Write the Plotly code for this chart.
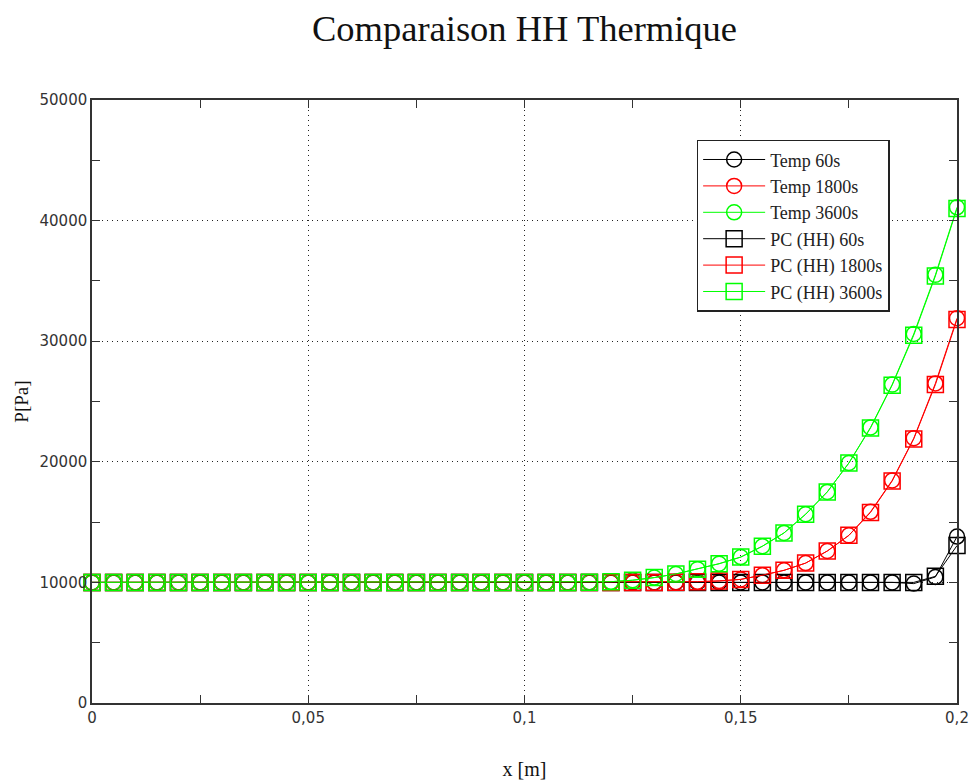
import plotly.graph_objects as go

# ---- data ----
x_m = [0.000, 0.005, 0.010, 0.015, 0.020, 0.025, 0.030, 0.035, 0.040, 0.045,
       0.050, 0.055, 0.060, 0.065, 0.070, 0.075, 0.080, 0.085, 0.090, 0.095,
       0.100, 0.105, 0.110, 0.115, 0.120, 0.125, 0.130, 0.135, 0.140, 0.145,
       0.150, 0.155, 0.160, 0.165, 0.170, 0.175, 0.180, 0.185, 0.190, 0.195,
       0.200]

temp_60 = [10000, 10000, 10000, 10000, 10000, 10000, 10000, 10000, 10000, 10000,
           10000, 10000, 10000, 10000, 10000, 10000, 10000, 10000, 10000, 10000,
           10000, 10000, 10000, 10000, 10000, 10000, 10000, 10000, 10000, 10000,
           10000, 10000, 10000, 10000, 10000, 10000, 10000, 10000, 9900, 10450,
           13800]
temp_1800 = [10000, 10000, 10000, 10000, 10000, 10000, 10000, 10000, 10000, 10000,
             10000, 10000, 10000, 10000, 10000, 10000, 10000, 10000, 10000, 10000,
             10000, 10000, 10000, 10000, 10000, 10000, 10000, 10020, 10060, 10120,
             10250, 10600, 11000, 11600, 12600, 13900, 15850, 18450, 21950, 26500,
             31900]
temp_3600 = [10000, 10000, 10000, 10000, 10000, 10000, 10000, 10000, 10000, 10000,
             10000, 10000, 10000, 10000, 10000, 10000, 10000, 10000, 10000, 10000,
             10000, 10000, 10000, 10020, 10060, 10180, 10400, 10700, 11100, 11550,
             12100, 13000, 14100, 15650, 17500, 19900, 22850, 26400, 30600, 35500,
             41100]
pc_60 = [10000, 10000, 10000, 10000, 10000, 10000, 10000, 10000, 10000, 10000,
         10000, 10000, 10000, 10000, 10000, 10000, 10000, 10000, 10000, 10000,
         10000, 10000, 10000, 10000, 10000, 10000, 10000, 10000, 10000, 10000,
         10000, 10000, 10000, 10000, 10000, 10000, 10000, 10000, 10000, 10500,
         13050]
pc_1800 = [10000, 10000, 10000, 10000, 10000, 10000, 10000, 10000, 10000, 10000,
           10000, 10000, 10000, 10000, 10000, 10000, 10000, 10000, 10000, 10000,
           10000, 10000, 10000, 10000, 10000, 10000, 10000, 10020, 10060, 10120,
           10250, 10600, 11000, 11600, 12600, 13900, 15800, 18400, 21900, 26400,
           31800]
pc_3600 = [10000, 10000, 10000, 10000, 10000, 10000, 10000, 10000, 10000, 10000,
           10000, 10000, 10000, 10000, 10000, 10000, 10000, 10000, 10000, 10000,
           10000, 10000, 10000, 10020, 10060, 10180, 10400, 10700, 11100, 11550,
           12100, 13000, 14100, 15650, 17500, 19900, 22800, 26350, 30500, 35400,
           41000]

series_names = ["Temp 60s", "Temp 1800s", "Temp 3600s",
                "PC (HH) 60s", "PC (HH) 1800s", "PC (HH) 3600s"]
series_values = [temp_60, temp_1800, temp_3600, pc_60, pc_1800, pc_3600]
series_colors = ["#000000", "#ff0000", "#00ff00", "#000000", "#ff0000", "#00ff00"]
series_symbols = ["circle-open", "circle-open", "circle-open",
                  "square-open", "square-open", "square-open"]

x_tickvals = [0, 0.05, 0.1, 0.15, 0.2]
x_ticktext = ["0", "0,05", "0,1", "0,15", "0,2"]
y_tickvals = [0, 10000, 20000, 30000, 40000, 50000]
y_ticktext = ["0", "10000", "20000", "30000", "40000", "50000"]

SERIF = "Liberation Serif, Times New Roman, serif"
SANS = "DejaVu Sans, sans-serif"

fig = go.Figure()
for i, (name, vals, col, sym) in enumerate(zip(series_names, series_values,
                                                 series_colors, series_symbols)):
    fig.add_trace(go.Scatter(
        x=x_m, y=vals, name=name, mode="lines+markers",
        legendgroup="g%d" % i, cliponaxis=False,
        line=dict(color=col, width=1),
        marker=dict(symbol=sym, size=15 if "circle" in sym else 16,
                    color=col, line=dict(color=col, width=1.5)),
    ))

axis_common = dict(
    showline=True, linecolor="#333333", linewidth=1.5, mirror="allticks",
    ticks="inside", ticklen=1, tickcolor="#333333",
    showgrid=True, gridcolor="#222222", gridwidth=1, griddash="1px,4px",
    zeroline=False, automargin=False,
    tickfont=dict(family=SANS, size=15, color="#333333"),
)

fig.update_xaxes(
    range=[0, 0.2], tickvals=x_tickvals, ticktext=x_ticktext,
    minor=dict(dtick=0.025, tick0=0, ticks="inside", ticklen=8,
               tickcolor="#333333", showgrid=False),
    title=dict(text="x [m]", font=dict(family=SERIF, size=20, color="#111111"),
               standoff=36),
    **axis_common,
)
fig.update_yaxes(
    range=[0, 50000], tickvals=y_tickvals, ticktext=y_ticktext,
    minor=dict(dtick=5000, tick0=0, ticks="inside", ticklen=8,
               tickcolor="#333333", showgrid=False),
    title=dict(text="P[Pa]", font=dict(family=SERIF, size=19, color="#111111"),
               standoff=6),
    **axis_common,
)

fig.update_layout(
    width=971, height=783,
    margin=dict(l=92, r=14, t=100, b=80),
    paper_bgcolor="white", plot_bgcolor="white",
    title=dict(text="Comparaison HH Thermique",
               font=dict(family=SERIF, size=36.5, color="#111111"),
               x=0.5, xref="paper", xanchor="center",
               y=1 - 28 / 783, yref="container", yanchor="middle"),
    showlegend=True,
    legend=dict(x=0.699, y=0.934, xanchor="left", yanchor="top",
                bgcolor="white", bordercolor="#222222", borderwidth=1.5,
                font=dict(family=SERIF, size=18, color="#222222"),
                itemwidth=62, tracegroupgap=2, traceorder="normal",
                entrywidth=136, entrywidthmode="pixels"),
)

fig.write_html("out.html")
